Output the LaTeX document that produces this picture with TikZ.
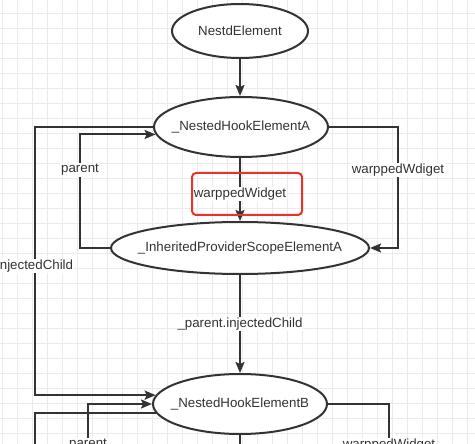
\documentclass[tikz,border=0pt]{standalone}
\usepackage{fontspec}
\setmainfont{Liberation Sans}
\usetikzlibrary{shapes.geometric,arrows.meta}
\definecolor{ink}{HTML}{333333}
\definecolor{gridc}{HTML}{EBEBEB}
\definecolor{hilite}{HTML}{E8332A}

\begin{document}
\begin{tikzpicture}[x=1pt,y=-1pt,
 every node/.style={text=ink},
 elem/.style={ellipse,draw=ink,line width=2pt,fill=white,inner xsep=-20pt,inner ysep=-5pt,font=\fontsize{13.3}{15}\selectfont},
 lbl/.style={fill=white,inner sep=1pt,font=\fontsize{13.3}{15}\selectfont},
 link/.style={draw=ink,line width=2pt},
 arr/.style={link,-{Stealth[length=11pt,width=9pt,inset=2pt]}}]
\useasboundingbox (0,0) rectangle (475,444);
\fill[white] (0,0) rectangle (475,444);
\foreach \k in {0,...,31}
 \draw[gridc,line width=0.8pt] (2+15*\k,0) -- (2+15*\k,444);
\foreach \k in {0,...,29}
 \draw[gridc,line width=0.8pt] (0,13+15*\k) -- (475,13+15*\k);

\node[elem,minimum width=136pt,minimum height=54pt] (nest) at (240,31) {NestdElement};
\node[elem,minimum width=174pt,minimum height=60pt] (hookA) at (241,127) {\_NestedHookElementA};
\node[elem,minimum width=258pt,minimum height=52pt] (inhA) at (240,248) {\_InheritedProviderScopeElementA};
\node[elem,minimum width=174pt,minimum height=60pt] (hookB) at (240,404) {\_NestedHookElementB};

\coordinate (endP) at (88,452);
\coordinate (endL) at (35,452);
\coordinate (endM) at (240,452);
\coordinate (endR) at (389,452);

\draw[arr] (nest) -- (nest |- hookA.north);
\draw[arr] (inhA |- hookA.south) -- node[lbl,pos=0.57] (wA) {warppedWidget} (inhA.north);
\draw[hilite,line width=2pt,rounded corners=4pt] (192,173) rectangle (302,215);
\draw[arr] (hookA.east) -| (398,170) node[lbl] {warppedWdiget} |- (inhA.east);
\draw[arr] (inhA.west) -| (80,170) node[lbl] {parent} |- (hookA.185);
\draw[arr] (hookA.west) -| (35,266) node[lbl] {injectedChild} |- (hookB.174);
\draw[arr] (inhA.south) -- node[lbl] {\_parent.injectedChild} (hookB.north);
\draw[arr] (endP) -- (88,445) node[lbl] {parent} |- (hookB.west);
\draw[link] (hookB.186) -| (endL);
\draw[link] (hookB.east) -| (389,445) node[lbl] {warppedWidget} -- (endR);
\draw[link] (hookB.south) -- (endM);
\end{tikzpicture}
\end{document}
